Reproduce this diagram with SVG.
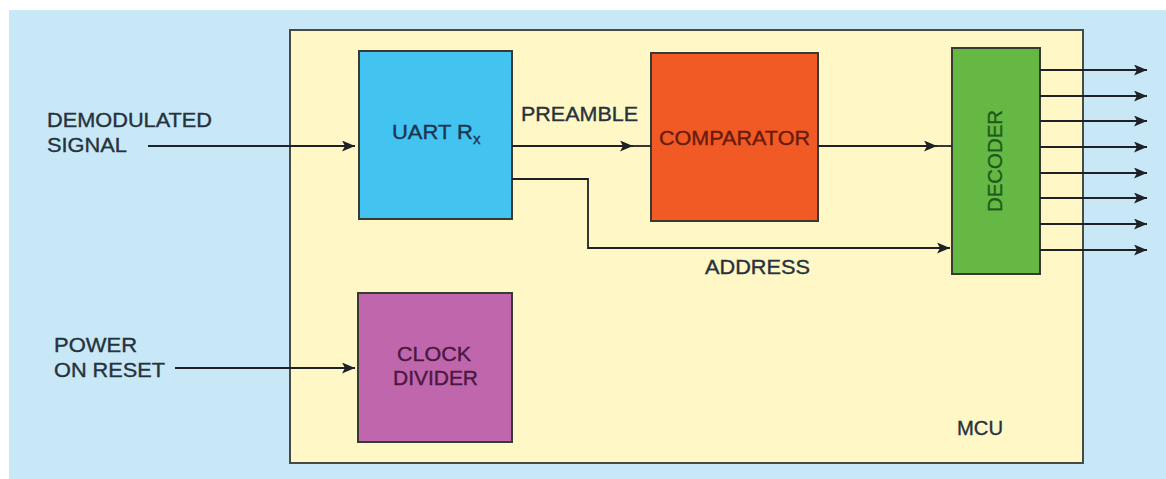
<svg xmlns="http://www.w3.org/2000/svg" width="1166" height="479" viewBox="0 0 1166 479">
<defs>
<style>
text{font-family:"Liberation Sans",Arial,sans-serif;font-size:19.5px;stroke-width:0.35px;}
.lbl{fill:#26323c;stroke:#26323c;}
.box{stroke:#3a3a34;stroke-width:2;}
.wire{fill:none;stroke:#1e2226;stroke-width:1.8;}
</style>
<marker id="ah" viewBox="0 0 13 11" refX="13" refY="5.5" markerWidth="13" markerHeight="11" markerUnits="userSpaceOnUse" orient="auto">
<path d="M0,0 L13,5.5 L0,11 L3,5.5 Z" fill="#1e2226"/>
</marker>
</defs>
<rect x="0" y="0" width="1166" height="479" fill="#ffffff"/>
<rect x="9" y="10" width="1157" height="469" fill="#c8e8f8"/>
<g id="mcu">
<rect x="290" y="30" width="793" height="433" fill="#fff7c6" stroke="#4a4a44" stroke-width="2"/>
<text class="lbl" x="957" y="435" textLength="46" lengthAdjust="spacingAndGlyphs">MCU</text>
</g>
<g id="uart">
<rect class="box" x="359" y="51" width="153" height="168" fill="#42c3f0"/>
<text x="392" y="139" fill="#1d3550" stroke="#1d3550" textLength="81" lengthAdjust="spacingAndGlyphs">UART R</text>
<text x="473" y="144" fill="#1d3550" stroke="#1d3550" style="font-size:15px">x</text>
</g>
<g id="comparator">
<rect class="box" x="651" y="53" width="167" height="168" fill="#f15a24"/>
<text x="659" y="145" fill="#6a1a0c" stroke="#6a1a0c" textLength="151" lengthAdjust="spacingAndGlyphs">COMPARATOR</text>
</g>
<g id="decoder">
<rect class="box" x="952" y="48" width="88" height="226" fill="#64b843"/>
<text x="0" y="0" fill="#1f5a1c" stroke="#1f5a1c" text-anchor="middle" transform="translate(1002,161) rotate(-90)" textLength="102" lengthAdjust="spacingAndGlyphs">DECODER</text>
</g>
<g id="clock">
<rect class="box" x="358" y="293" width="154" height="149" fill="#c066ac"/>
<text x="397" y="361" fill="#4a1840" stroke="#4a1840" textLength="74" lengthAdjust="spacingAndGlyphs">CLOCK</text>
<text x="393" y="385" fill="#4a1840" stroke="#4a1840" textLength="85" lengthAdjust="spacingAndGlyphs">DIVIDER</text>
</g>
<g id="inputs">
<text class="lbl" x="47" y="127" textLength="165" lengthAdjust="spacingAndGlyphs">DEMODULATED</text>
<text class="lbl" x="47" y="152" textLength="80" lengthAdjust="spacingAndGlyphs">SIGNAL</text>
<text class="lbl" x="54" y="352" textLength="83" lengthAdjust="spacingAndGlyphs">POWER</text>
<text class="lbl" x="54" y="377" textLength="111" lengthAdjust="spacingAndGlyphs">ON RESET</text>
</g>
<g id="labels">
<text class="lbl" x="521" y="121" textLength="117" lengthAdjust="spacingAndGlyphs">PREAMBLE</text>
<text class="lbl" x="705" y="274" textLength="105" lengthAdjust="spacingAndGlyphs">ADDRESS</text>
</g>
<g id="connectors">
<line class="wire" x1="148" y1="146" x2="355" y2="146" marker-end="url(#ah)"/>
<line class="wire" x1="175" y1="368" x2="355" y2="368" marker-end="url(#ah)"/>
<line class="wire" x1="512" y1="146" x2="633" y2="146" marker-end="url(#ah)"/>
<line class="wire" x1="633" y1="146" x2="651" y2="146"/>
<polyline class="wire" points="512,179 588,179 588,248 950,248" marker-end="url(#ah)"/>
<line class="wire" x1="818" y1="146" x2="937" y2="146" marker-end="url(#ah)"/>
<line class="wire" x1="937" y1="146" x2="952" y2="146"/>
<line class="wire" x1="1040" y1="70" x2="1147" y2="70" marker-end="url(#ah)"/>
<line class="wire" x1="1040" y1="96" x2="1147" y2="96" marker-end="url(#ah)"/>
<line class="wire" x1="1040" y1="121" x2="1147" y2="121" marker-end="url(#ah)"/>
<line class="wire" x1="1040" y1="147" x2="1147" y2="147" marker-end="url(#ah)"/>
<line class="wire" x1="1040" y1="173" x2="1147" y2="173" marker-end="url(#ah)"/>
<line class="wire" x1="1040" y1="198" x2="1147" y2="198" marker-end="url(#ah)"/>
<line class="wire" x1="1040" y1="224" x2="1147" y2="224" marker-end="url(#ah)"/>
<line class="wire" x1="1040" y1="250" x2="1147" y2="250" marker-end="url(#ah)"/>
</g>
</svg>
